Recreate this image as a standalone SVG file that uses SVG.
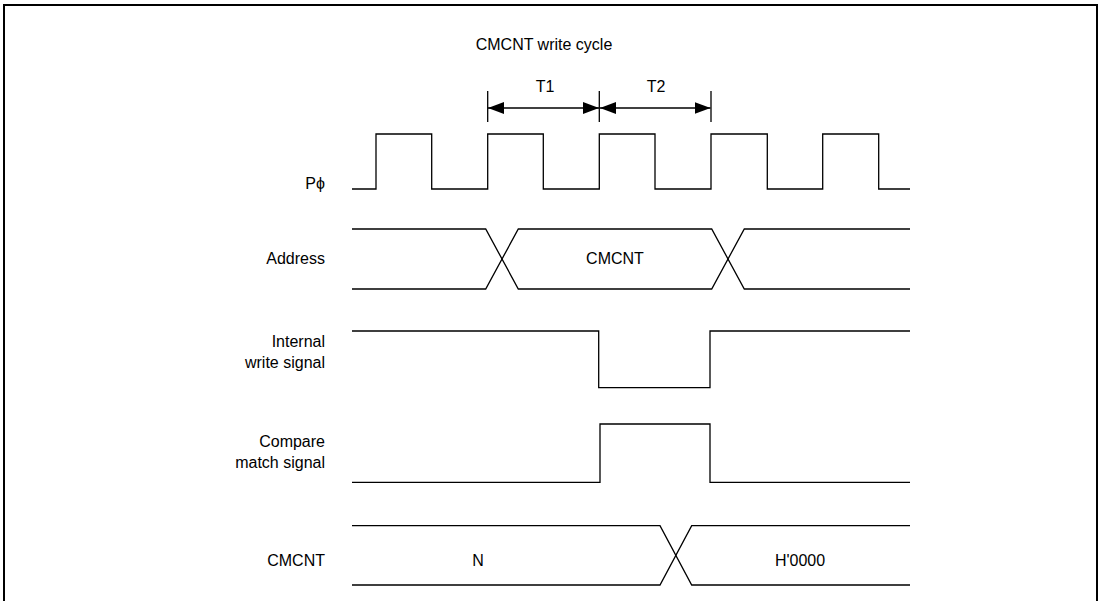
<svg xmlns="http://www.w3.org/2000/svg" width="1101" height="601" viewBox="0 0 1101 601">
<defs>
<style>
.w{fill:none;stroke:#000;stroke-width:1.3}
.t{font-family:"Liberation Sans",Arial,sans-serif;font-size:16px;fill:#000}
.r{text-anchor:end}
.m{text-anchor:middle}
</style>
<marker id="ah" viewBox="0 0 16 12" refX="16" refY="6" markerWidth="16" markerHeight="12" markerUnits="userSpaceOnUse" orient="auto-start-reverse">
<path d="M0,0 L16,6 L0,12 Z" fill="#000"/>
</marker>
</defs>
<rect x="0" y="0" width="1101" height="601" fill="#fff"/>
<path d="M4,601 V5 H1097 V601" fill="none" stroke="#000" stroke-width="2"/>
<text class="t m" x="544" y="50">CMCNT write cycle</text>
<g id="timing">
<g id="dim">
<path class="w" d="M487.7,91 V122 M599.3,91 V122 M711,91 V122"/>
<line class="w" x1="488" y1="108" x2="599" y2="108" marker-start="url(#ah)" marker-end="url(#ah)"/>
<line class="w" x1="600" y1="108" x2="710.5" y2="108" marker-start="url(#ah)" marker-end="url(#ah)"/>
<text class="t m" x="545" y="92">T1</text>
<text class="t m" x="656" y="92">T2</text>
</g>
<g id="clk">
<text class="t r" x="325" y="189">Pϕ</text>
<path class="w" d="M352,189 H376 V134 H431.7 V189 H487.7 V134 H543.3 V189 H599.3 V134 H655 V189 H711 V134 H767.3 V189 H822.7 V134 H878.7 V189 H910"/>
</g>
<g id="addr">
<text class="t r" x="325" y="264">Address</text>
<path class="w" d="M352,229 H485.7 L518.3,289 H711.7 L744.3,229 H910"/>
<path class="w" d="M352,289 H485.7 L518.3,229 H711.7 L744.3,289 H910"/>
<text class="t m" x="615" y="264">CMCNT</text>
</g>
<g id="wr">
<text class="t r" x="325" y="347">Internal</text>
<text class="t r" x="325" y="368">write signal</text>
<path class="w" d="M352,331 H598.7 V387.7 H710 V331 H910"/>
</g>
<g id="cm">
<text class="t r" x="325" y="447">Compare</text>
<text class="t r" x="325" y="468">match signal</text>
<path class="w" d="M352,482.3 H600 V424 H710 V482.3 H910"/>
</g>
<g id="cnt">
<text class="t r" x="325" y="566">CMCNT</text>
<path class="w" d="M352,525.7 H660 L691.7,585 H910"/>
<path class="w" d="M352,585 H660 L691.7,525.7 H910"/>
<text class="t m" x="478" y="566">N</text>
<text class="t m" x="800" y="566">H'0000</text>
</g>
</g>
</svg>
